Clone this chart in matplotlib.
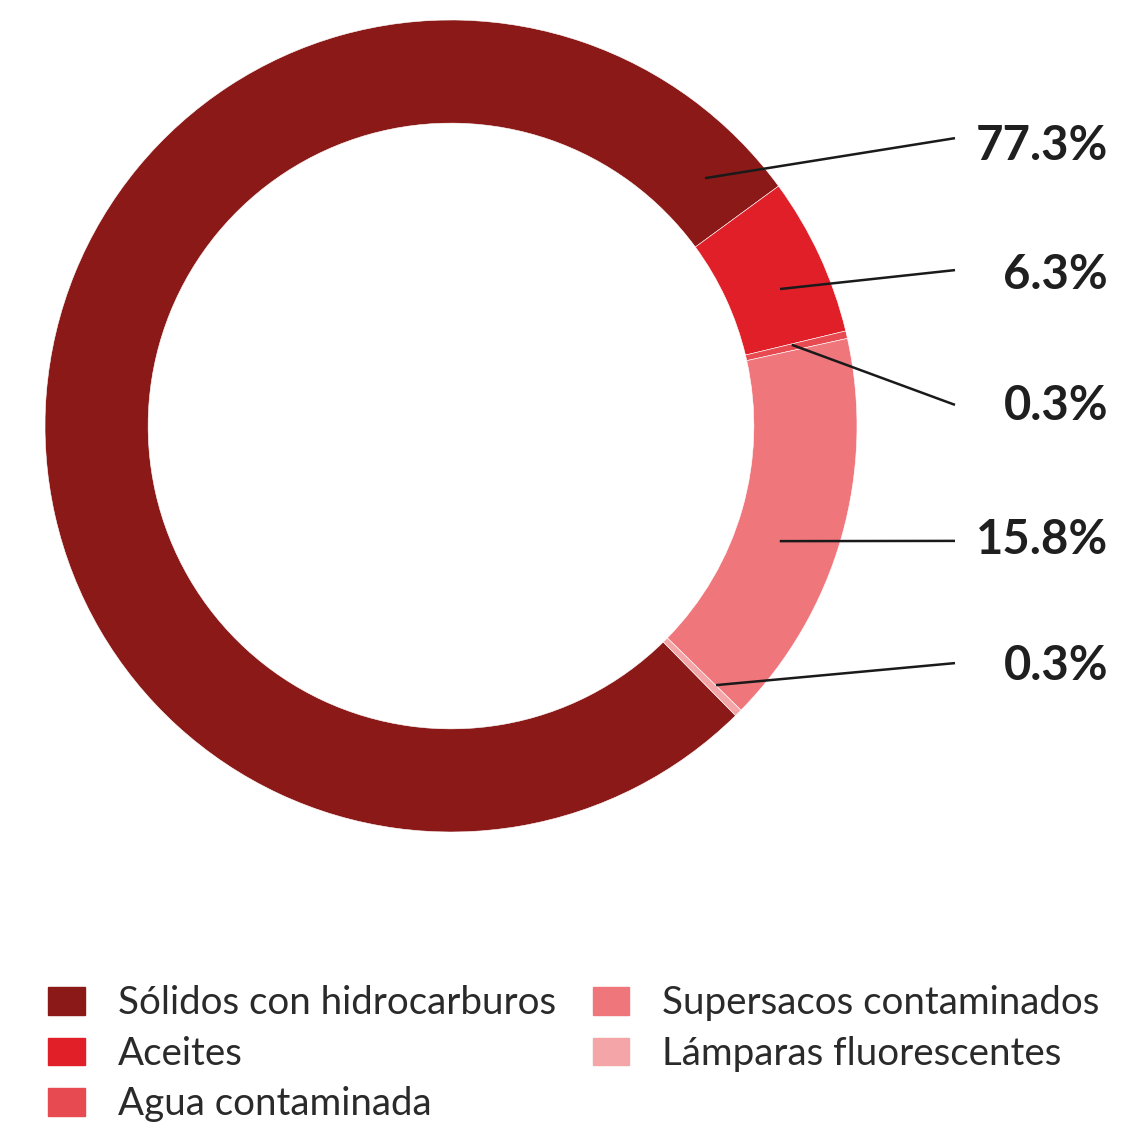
import matplotlib
matplotlib.use("Agg")
import matplotlib.pyplot as plt
import numpy as np

# waste categories and their share of the total (%)
categories = ["Sólidos con hidrocarburos", "Aceites", "Agua contaminada",
              "Supersacos contaminados", "Lámparas fluorescentes"]
shares = [77.3, 6.3, 0.3, 15.8, 0.3]
colors = ["#8a1917", "#e11f28", "#e84a52", "#ef777c", "#f4a5a7"]

# callout geometry: start on the ring (degrees, radius), line end y, text y
anchor_angle = [44.3, 22.6, 13.4, -19.3, -44.35]
anchor_radius = [0.874, 0.878, 0.863, 0.858, 0.913]
line_y = [0.709, 0.384, 0.052, -0.283, -0.584]
text_y = [0.690, 0.372, 0.050, -0.281, -0.591]

W = H = 1123
fig = plt.figure(figsize=(W / 100, H / 100), dpi=100)

cx, cy, R = 451, 426, 406
ax = fig.add_axes([(cx - R) / W, (H - cy - R) / H, 2 * R / W, 2 * R / H])
ax.pie(shares, colors=colors, startangle=-45.5, counterclock=False,
       radius=1.0, wedgeprops=dict(width=0.254, edgecolor="white", linewidth=0.4))
ax.set_xlim(-1, 1)
ax.set_ylim(-1, 1)
ax.set_aspect("equal")
ax.axis("off")

line_end_x = (955 - cx) / R
text_x = (1108 - cx) / R
for val, ang, rad, ly, ty in zip(shares, anchor_angle, anchor_radius, line_y, text_y):
    a = np.deg2rad(ang)
    x0, y0 = rad * np.cos(a), rad * np.sin(a)
    ax.plot([x0, line_end_x], [y0, ly], color="#1a1a1a", lw=1.8,
            clip_on=False, solid_capstyle="butt")
    ax.text(text_x, ty, f"{val}%", ha="right", va="center", fontsize=34,
            fontweight="bold", family="Lato", color="#1f1f1f", clip_on=False)

handles = [plt.Rectangle((0, 0), 1, 1, color=c) for c in colors]
leg = fig.legend(handles, categories, ncol=2, loc="upper left",
                 bbox_to_anchor=(29 / W, 1 - 966 / H), frameon=False,
                 prop=dict(family="Lato", weight="normal", size=27.7),
                 handlelength=0.96, handleheight=0.72, handletextpad=0.85,
                 columnspacing=0.95, labelspacing=0.38, borderpad=0.0)
for t in leg.get_texts():
    t.set_color("#2a2a2a")

fig.savefig("out.png", dpi=100, facecolor="white")
